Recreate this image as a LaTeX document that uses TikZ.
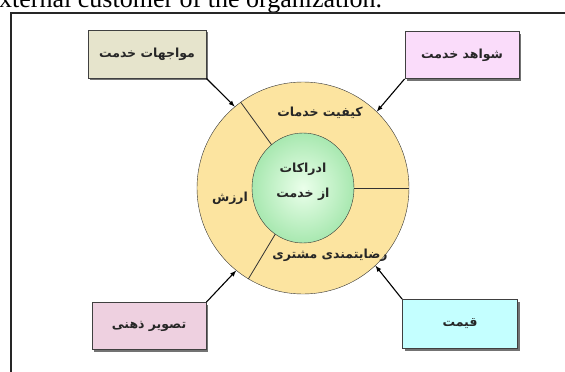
\documentclass[tikz,border=0pt]{standalone}
\usepackage{fontspec}
\setmainfont{Liberation Serif}
\newfontfamily\arabicfont[Script=Arabic]{DejaVu Sans}
\TeXXeTstate=1
\usepackage{tikz}
\usetikzlibrary{shadows,shadings}
\usetikzlibrary{arrows}
\usetikzlibrary{shapes,shapes.geometric}
\usepackage{xcolor}
\definecolor{ringyellow}{RGB}{252,228,160}
\definecolor{coregreen}{RGB}{168,232,176}
\definecolor{khaki}{RGB}{230,228,204}
\definecolor{lilac}{RGB}{250,220,250}
\definecolor{mauve}{RGB}{238,208,224}
\definecolor{aqua}{RGB}{196,255,255}

\begin{document}
\begin{tikzpicture}[x=1pt,y=-1pt,
		fa/.style={font=\arabicfont\bfseries\fontsize{12.5}{14}\selectfont, text=black!85},
		factorbox/.style={draw=black!75, thick, fa, minimum width=114pt, minimum height=47pt,
			drop shadow={shadow xshift=2pt, shadow yshift=-2pt, fill=black!55, opacity=1}},
		arr/.style={-latex, line width=1.1pt, black}]
		\useasboundingbox (0,0) rectangle (565,372);
		\clip (0,0) rectangle (565,372);
		\node[anchor=base west, inner sep=0, font=\fontsize{26}{28}\selectfont] (caption) at (-1,7) {xternal customer of the organization.};
		\draw[line width=2.5pt, black!85] (11,380) -- (11,13) -- (570,13);
		
		\node[circle, draw=black!80, fill=ringyellow, minimum size=212pt] (ring) at (303,188) {};
		\draw[black!80, thick] (ring.center) -- (ring.126);
		\draw[black!80, thick] (ring.center) -- (ring.0);
		\draw[black!80, thick] (ring.center) -- (ring.239);
		\node[ellipse, draw=black!80, inner color=green!8, outer color=coregreen, minimum width=102pt, minimum height=110pt] (core) at (303,188) {};
		\node[fa, align=center] (corelabel) at (303,182) {\beginR ادراکات\endR\\[11pt]\beginR از خدمت\endR};
		
		\node[fa] (quality) at (320,113) {\beginR کیفیت خدمات\endR};
		\node[fa] (value) at (230,198) {\beginR ارزش\endR};
		\node[fa] (satisf) at (330,255) {\beginR رضایتمندی مشتری\endR};
		
		\node[factorbox, fill=khaki, minimum width=118pt, minimum height=48pt] (encounter) at (147,54) {\beginR مواجهات خدمت\endR};
		\node[factorbox, fill=lilac] (evidence) at (462,55) {\beginR شواهد خدمت\endR};
		\node[factorbox, fill=mauve] (image) at (149,326) {\beginR تصویر ذهنی\endR};
		\node[factorbox, fill=aqua, minimum width=115pt, minimum height=49pt] (price) at (460,324) {\beginR قیمت\endR};
		
		\draw[arr] (encounter.south east) -- (ring.130);
		\draw[arr] (evidence.south west) -- (ring.46);
		\draw[arr] (image.north east) -- (ring.231);
		\draw[arr] (price.north west) -- (ring.-47);
	\end{tikzpicture}
\end{document}
